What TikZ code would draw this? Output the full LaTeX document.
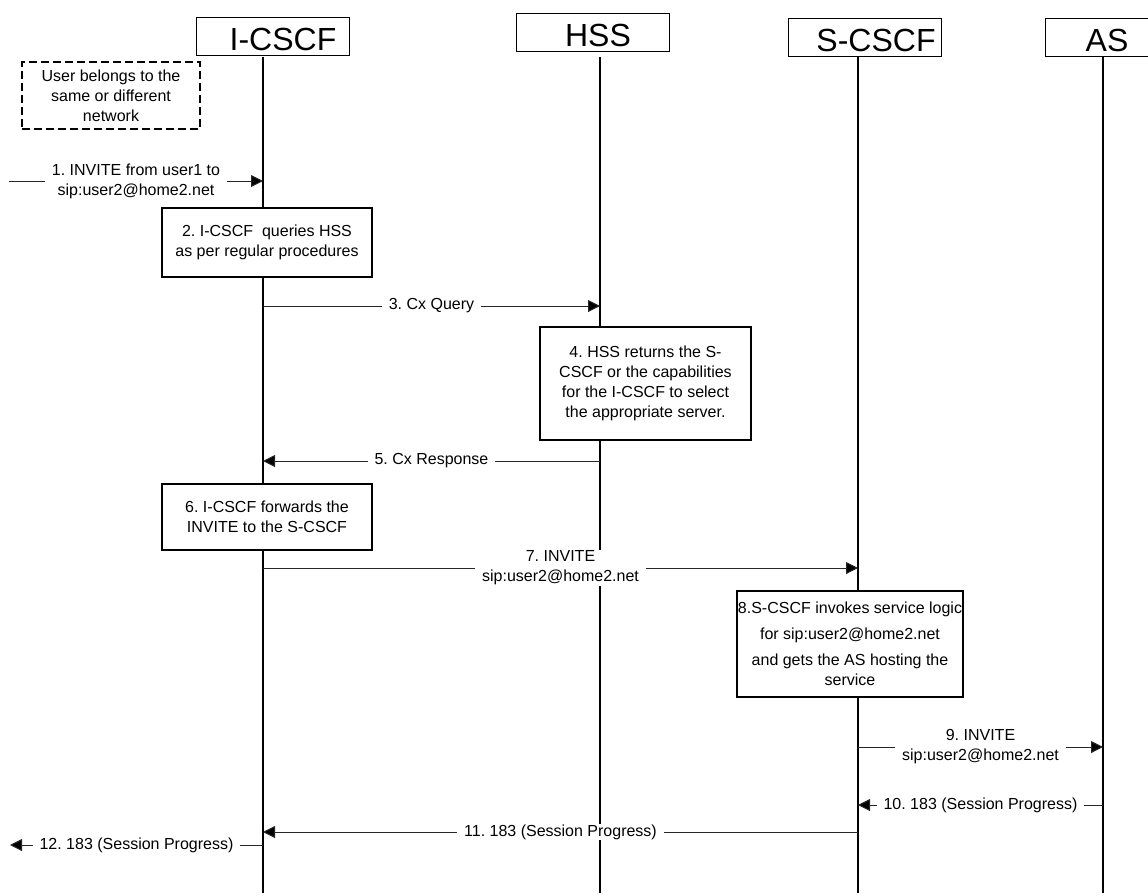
\documentclass[tikz,border=0pt]{standalone}
\usepackage{fontspec}
\setmainfont{Liberation Sans}
\usetikzlibrary{arrows.meta}
\newcommand{\sigfont}{\frenchspacing\fontsize{16}{20}\selectfont}
\newcommand{\headfont}{\fontsize{32}{38}\selectfont}

\begin{document}
\begin{tikzpicture}[x=1pt,y=-1pt,
    headbox/.style={draw,line width=1.3pt,anchor=north west,minimum width=153pt,minimum height=38pt,inner sep=0pt},
    headtext/.style={font=\headfont,anchor=base,inner sep=0pt},
    life/.style={line width=1.3pt},
    actbox/.style={draw,fill=white,line width=1.3pt,align=center,font=\sigfont,inner sep=0pt},
    notebox/.style={draw,line width=1.3pt,dash pattern=on 8pt off 4pt,align=center,font=\sigfont,inner sep=0pt},
    msg/.style={draw=black!85,line width=1pt,-{Triangle[length=12pt,width=12pt,fill=black]}},
    lbl/.style={fill=white,align=center,font=\sigfont,inner xsep=7pt,inner ysep=1pt}]
    \useasboundingbox (0,0) rectangle (1148,895);

    % participants and lifelines
    \foreach \n/\t/\bx/\by/\tx/\lx in {icscf/I-CSCF/196/17/283/263,hss/HSS/516/13/598/600,
                                      scscf/S-CSCF/788/18/876/858,as/AS/1045/18/1107/1103} {
      \node[headbox] (\n-box) at (\bx,\by) {};
      \node[headtext] (\n) at (\tx,\by+33) {\t};
      \coordinate (\n-top) at (\lx,57);
      \coordinate (\n-end) at (\lx,893);
      \draw[life] (\n-top) -- (\n-end);
    }

    \node[notebox,minimum width=178pt,minimum height=67pt] (note) at (111,95.5)
          {User belongs to the\\same or different\\network};

    \coordinate (user1) at (9,181);
    \draw[msg] (user1) -- node[lbl] (m1) {1. INVITE from user1 to\\sip:user2@home2.net} (icscf-top |- user1);

    \node[actbox,minimum width=210pt,minimum height=69pt] (a2) at (267,242.5)
          {2. I-CSCF~ queries HSS\\as per regular procedures};

    \draw[msg] (icscf-top |- 0,306) -- node[lbl] (m3) {3. Cx Query} (hss-top |- 0,306);

    \node[actbox,minimum width=211pt,minimum height=113pt] (a4) at (645.5,383.5)
          {4. HSS returns the S-\\CSCF or the capabilities\\for the I-CSCF to select\\the appropriate server.};

    \draw[msg] (hss-top |- 0,461) -- node[lbl] (m5) {5. Cx Response} (icscf-top |- 0,461);

    \node[actbox,minimum width=210pt,minimum height=66pt] (a6) at (267,517)
          {6. I-CSCF forwards the\\INVITE to the S-CSCF};

    \draw[msg] (icscf-top |- 0,568) -- node[lbl] (m7) {7. INVITE\\sip:user2@home2.net} (scscf-top |- 0,568);

    \node[actbox,minimum width=226pt,minimum height=106pt] (a8) at (850,644)
          {8.S-CSCF invokes service logic\\[6pt]for sip:user2@home2.net\\[6pt]and gets the AS hosting the\\service};

    \draw[msg] (scscf-top |- 0,747) -- node[lbl] (m9) {9. INVITE\\sip:user2@home2.net} (as-top |- 0,747);
    \draw[msg] (as-top |- 0,805) -- node[lbl] (m10) {10. 183 (Session Progress)} (scscf-top |- 0,805);
    \draw[msg] (scscf-top |- 0,832) -- node[lbl] (m11) {11. 183 (Session Progress)} (icscf-top |- 0,832);

    \coordinate (caller) at (10,845);
    \draw[msg] (icscf-top |- caller) -- node[lbl] (m12) {12. 183 (Session Progress)} (caller);
\end{tikzpicture}
\end{document}
